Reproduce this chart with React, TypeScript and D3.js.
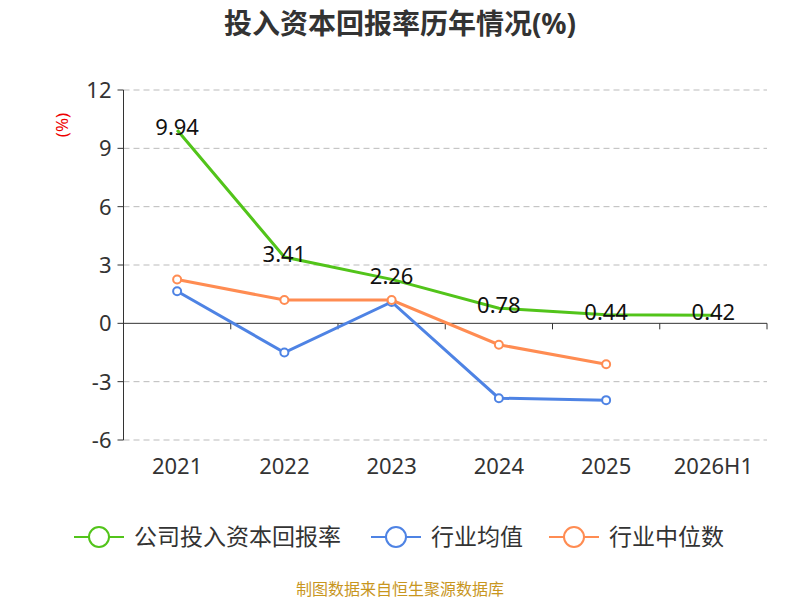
import * as d3 from 'd3';

const categories = ['2021', '2022', '2023', '2024', '2025', '2026H1'];
const company = [9.94, 3.41, 2.26, 0.78, 0.44, 0.42];
const industryAvg = [1.65, -1.5, 1.1, -3.85, -3.95];
const industryMedian = [2.25, 1.2, 1.2, -1.1, -2.1];
const yTicks = [-6, -3, 0, 3, 6, 9, 12];

const W = 800, H = 600;
const left = 123.5, right = 767, top = 90, bottom = 440;
const font = '"Noto Sans", "Noto Sans CJK SC", sans-serif';

export default function App() {
  const x = d3.scaleBand<string>().domain(categories).range([left, right]);
  const y = d3.scaleLinear().domain([-6, 12]).range([bottom, top]);
  const cx = (i: number) => (x(categories[i]) ?? 0) + x.bandwidth() / 2;
  const line = d3.line<number>().x((_, i) => cx(i)).y(d => y(d));

  const series = [
    { name: '公司投入资本回报率', color: '#52c41a', data: company, markers: false },
    { name: '行业均值', color: '#4e83e4', data: industryAvg, markers: true },
    { name: '行业中位数', color: '#ff8c52', data: industryMedian, markers: true },
  ];
  const legendX = [80, 377, 555];

  return (
    <svg width={W} height={H} style={{ position: 'absolute', left: 0, top: 0 }} fontFamily={font}>
      <rect width={W} height={H} fill="#fff" />
      <text x={400} y={34} textAnchor="middle" fontSize={28} fontWeight="bold" fill="#333">投入资本回报率历年情况(%)</text>
      <text transform="translate(68,125) rotate(-90)" textAnchor="middle" fontSize={17} fill="#e00">(%)</text>
      {yTicks.map(t => (
        <g key={t}>
          {t !== 0 && <line x1={left} x2={right} y1={y(t)} y2={y(t)} stroke="#bbb" strokeDasharray="6,4" />}
          <line x1={left - 6} x2={left} y1={y(t)} y2={y(t)} stroke="#333" />
          <text x={left - 12} y={y(t) + 8} textAnchor="end" fontSize={22} fill="#333">{t}</text>
        </g>
      ))}
      <line x1={left} x2={left} y1={top} y2={bottom} stroke="#333" />
      <line x1={left} x2={right} y1={y(0)} y2={y(0)} stroke="#333" />
      {categories.map((c, i) => (
        <g key={c}>
          <line x1={(x(c) ?? 0) + x.bandwidth()} x2={(x(c) ?? 0) + x.bandwidth()} y1={y(0)} y2={y(0) + 6} stroke="#333" />
          <text x={cx(i)} y={474} textAnchor="middle" fontSize={22} fill="#333">{c}</text>
        </g>
      ))}
      {series.map(s => (
        <g key={s.name}>
          <path d={line(s.data) ?? ''} fill="none" stroke={s.color} strokeWidth={3} />
          {s.markers && s.data.map((d, i) => (
            <circle key={i} cx={cx(i)} cy={y(d)} r={4} fill="#fff" stroke={s.color} strokeWidth={2} />
          ))}
        </g>
      ))}
      {company.map((d, i) => (
        <text key={i} x={cx(i)} y={y(d) + 5} textAnchor="middle" fontSize={22} fill="#111">{d.toFixed(2)}</text>
      ))}
      {series.map((s, i) => (
        <g key={s.name} transform={`translate(${legendX[i]},537)`}>
          <line x1={-6} x2={44} y1={0} y2={0} stroke={s.color} strokeWidth={2} />
          <circle cx={19} cy={0} r={10} fill="#fff" stroke={s.color} strokeWidth={2} />
          <text x={54} y={8} fontSize={23} fill="#333">{s.name}</text>
        </g>
      ))}
      <text x={400} y={595} textAnchor="middle" fontSize={16} fill="#c8961e">制图数据来自恒生聚源数据库</text>
    </svg>
  );
}
